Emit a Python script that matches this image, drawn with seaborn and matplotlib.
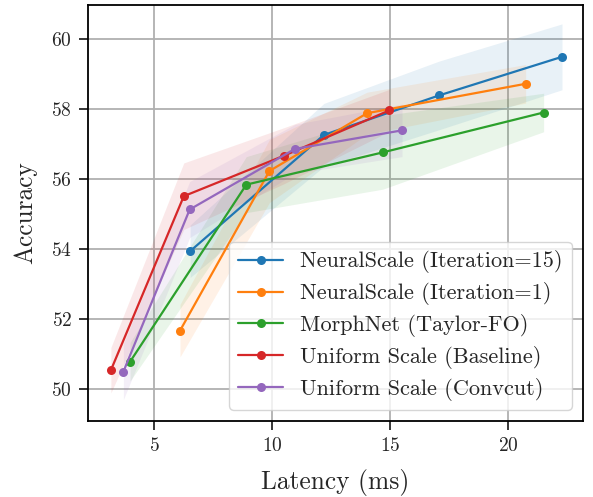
import numpy as np
import pandas as pd
import matplotlib
matplotlib.use("Agg")
import matplotlib.pyplot as plt
import seaborn as sns

labels = ["NeuralScale (Iteration=15)", "NeuralScale (Iteration=1)",
          "MorphNet (Taylor-FO)", "Uniform Scale (Baseline)", "Uniform Scale (Convcut)"]

ns15_lat = [6.53, 12.2, 17.09, 22.29]
ns15_acc = [53.94, 57.26, 58.39, 59.49]
ns15_sd = [0.75, 0.9, 0.98, 0.94]

ns1_lat = [6.10, 9.89, 14.03, 20.75]
ns1_acc = [51.67, 56.23, 57.88, 58.72]
ns1_sd = [0.75, 0.9, 0.6, 0.55]

mn_lat = [3.98, 8.91, 14.69, 21.51]
mn_acc = [50.78, 55.84, 56.76, 57.90]
mn_sd = [0.55, 0.8, 1.05, 0.55]

ub_lat = [3.17, 6.26, 10.52, 14.97]
ub_acc = [50.54, 55.51, 56.67, 57.96]
ub_sd = [0.65, 0.95, 0.8, 0.6]

uc_lat = [3.70, 6.51, 10.97, 15.51]
uc_acc = [50.50, 55.13, 56.86, 57.39]
uc_sd = [0.8, 0.8, 0.7, 0.75]

series = [(ns15_lat, ns15_acc, ns15_sd), (ns1_lat, ns1_acc, ns1_sd),
          (mn_lat, mn_acc, mn_sd), (ub_lat, ub_acc, ub_sd), (uc_lat, uc_acc, uc_sd)]

rows = []
for lab, (lat, acc, sd) in zip(labels, series):
    for a, b, c in zip(lat, acc, sd):
        rows.append({"method": lab, "lat": a, "acc": b, "sd": c})
df = pd.DataFrame(rows)

sns.set_theme(style="ticks")
plt.rcParams["font.family"] = ["serif"]
plt.rcParams["font.serif"] = ["cmr10", "DejaVu Serif"]
plt.rcParams["mathtext.fontset"] = "cm"
plt.rcParams["axes.formatter.use_mathtext"] = True

palette = sns.color_palette("tab10", 5)

fig = plt.figure(figsize=(5.93, 4.97), dpi=100)
ax = fig.add_axes([88/593, 1-421/497, (583-88)/593, (421-5)/497])

for lab, col in zip(labels, palette):
    d = df[df.method == lab]
    ax.fill_between(d.lat, d.acc - d.sd, d.acc + d.sd, color=col, alpha=0.1, linewidth=0)

sns.lineplot(data=df, x="lat", y="acc", hue="method", hue_order=labels, palette=palette,
             marker="o", markersize=6.5, markeredgewidth=0, linewidth=1.6,
             sort=False, estimator=None, ax=ax)

ax.set_xlim(2.2, 23.18)
ax.set_ylim(49.09, 60.97)
ax.set_xticks([5, 10, 15, 20])
ax.set_yticks([50, 52, 54, 56, 58, 60])
ax.grid(True, color="#b0b0b0", linewidth=1.3)
ax.set_axisbelow(True)
for s in ax.spines.values():
    s.set_color("black")
    s.set_linewidth(1.3)
ax.tick_params(axis="both", direction="out", length=6.5, width=1.1, labelsize=14, color="black", pad=5)
ax.set_xlabel("Latency (ms)", fontsize=18.3, labelpad=10)
ax.set_ylabel("Accuracy", fontsize=18.3, labelpad=10)

leg = ax.legend(loc="lower right", fontsize=16, frameon=True, fancybox=True,
                framealpha=0.8, edgecolor="#cccccc", borderaxespad=0.5,
                labelspacing=0.4, handlelength=2.0)
for h in leg.get_lines():
    h.set_linewidth(1.6)

fig.savefig("out.png", dpi=100)
